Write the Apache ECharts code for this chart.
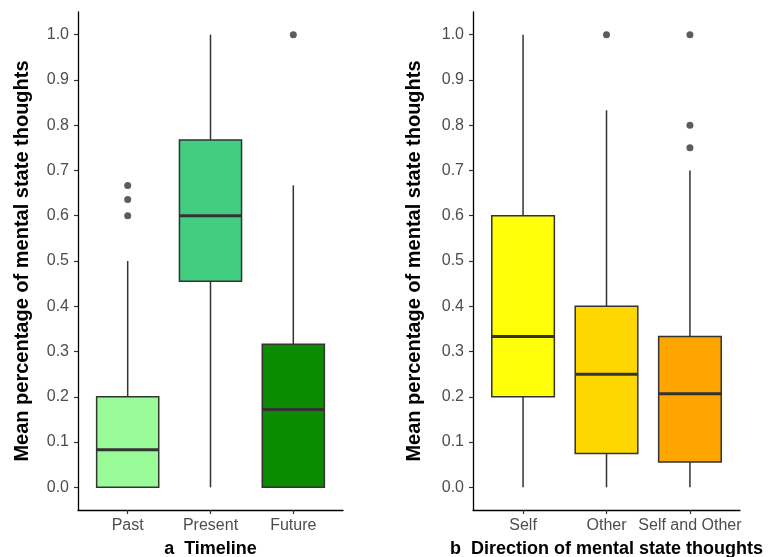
<!DOCTYPE html>
<html>
<head>
<meta charset="utf-8">
<script src="https://cdn.jsdelivr.net/npm/echarts@6/dist/echarts.min.js"></script>
<style>html,body{margin:0;padding:0;background:#fff}#c{width:784px;height:557px}</style>
</head>
<body>
<div id="c"></div>
<script>
// ---- data ----
var timelineCats = ['Past', 'Present', 'Future'];
// [min, q1, median, q3, max]
var timelineStats = [
  [0.0, 0.0, 0.083, 0.2, 0.5],
  [0.0, 0.455, 0.6, 0.767, 1.0],
  [0.0, 0.0, 0.172, 0.316, 0.667]
];
var timelineOutliers = [[0.6, 0.636, 0.667], [], [1.0]];

var directionCats = ['Self', 'Other', 'Self and Other'];
var directionStats = [
  [0.0, 0.2, 0.333, 0.6, 1.0],
  [0.0, 0.075, 0.25, 0.4, 0.833],
  [0.0, 0.056, 0.207, 0.333, 0.7]
];
var directionOutliers = [[], [1.0], [0.75, 0.8, 1.0]];

var yTicks = [0.0, 0.1, 0.2, 0.3, 0.4, 0.5, 0.6, 0.7, 0.8, 0.9, 1.0];
var yTitle = 'Mean percentage of mental state thoughts';
var xTitleA = 'a  Timeline';
var xTitleB = 'b  Direction of mental state thoughts';

// ---- styles ----
var timelineColors = ['#98FB98', '#43CD80', '#0B8B00'];
var directionColors = ['#FFFF0A', '#FFD700', '#FFA500'];
var FONT = '"Liberation Sans", Arial, Helvetica, sans-serif';
var INK = '#333333';

function boxData(stats) {
  return stats.map(function (s, i) { return [i + 1].concat(s); });
}
function outlierData(outs) {
  var r = [];
  outs.forEach(function (arr, i) { arr.forEach(function (v) { r.push([i + 1, v]); }); });
  return r;
}
function makeRender(colors) {
  return function (params, api) {
    var x = api.value(0);
    var pMin = api.coord([x, api.value(1)]);
    var pQ1 = api.coord([x, api.value(2)]);
    var pMed = api.coord([x, api.value(3)]);
    var pQ3 = api.coord([x, api.value(4)]);
    var pMax = api.coord([x, api.value(5)]);
    var hw = api.size([0.75, 0])[0] / 2;
    var cx = pMed[0];
    var lineStyle = { stroke: INK, lineWidth: 1.5 };
    return {
      type: 'group',
      children: [
        { type: 'line', shape: { x1: cx, y1: pQ3[1], x2: cx, y2: pMax[1] }, style: lineStyle },
        { type: 'line', shape: { x1: cx, y1: pMin[1], x2: cx, y2: pQ1[1] }, style: lineStyle },
        { type: 'rect', shape: { x: cx - hw, y: pQ3[1], width: 2 * hw, height: pQ1[1] - pQ3[1] },
          style: { fill: colors[params.dataIndex], stroke: INK, lineWidth: 1.5 } },
        { type: 'line', shape: { x1: cx - hw, y1: pMed[1], x2: cx + hw, y2: pMed[1] },
          style: { stroke: INK, lineWidth: 3 } }
      ]
    };
  };
}

function xAxisCfg(idx, cats, title) {
  return {
    type: 'value', gridIndex: idx, min: 0.4, max: 3.6,
    name: title, nameLocation: 'middle', nameGap: 30,
    nameTextStyle: { fontFamily: FONT, fontSize: 18, fontWeight: 'bold', color: '#000' },
    axisLine: { show: true, onZero: false, lineStyle: { color: '#000', width: 1.3 } },
    axisTick: { show: true, length: 4, lineStyle: { color: INK, width: 1.2 }, customValues: [1, 2, 3] },
    axisLabel: { show: true, margin: 8, fontFamily: FONT, fontSize: 16, color: '#4d4d4d',
      customValues: [1, 2, 3],
      formatter: function (v) { return cats[Math.round(v) - 1] || ''; } },
    splitLine: { show: false }
  };
}
function yAxisCfg(idx, gap) {
  return {
    type: 'value', gridIndex: idx, min: -0.05, max: 1.05,
    name: yTitle, nameLocation: 'middle', nameGap: gap,
    nameTextStyle: { fontFamily: FONT, fontSize: 20, fontWeight: 'bold', color: '#000' },
    axisLine: { show: true, onZero: false, lineStyle: { color: '#000', width: 1.3 } },
    axisTick: { show: true, length: 4, lineStyle: { color: INK, width: 1.2 }, customValues: yTicks },
    axisLabel: { show: true, margin: 9, fontFamily: FONT, fontSize: 16, color: '#4d4d4d',
      customValues: yTicks,
      formatter: function (v) { return v.toFixed(1); } },
    splitLine: { show: false }
  };
}

var chart = echarts.init(document.getElementById('c'), null, { renderer: 'canvas' });
chart.setOption({
  backgroundColor: '#fff',
  animation: false,
  grid: [
    { left: 78, width: 265, top: 12, bottom: 47, containLabel: false, outerBoundsMode: 'none' },
    { left: 473, width: 267, top: 12, bottom: 47, containLabel: false, outerBoundsMode: 'none' }
  ],
  xAxis: [xAxisCfg(0, timelineCats, xTitleA), xAxisCfg(1, directionCats, xTitleB)],
  yAxis: [yAxisCfg(0, 46), yAxisCfg(1, 49)],
  series: [
    { type: 'custom', xAxisIndex: 0, yAxisIndex: 0, data: boxData(timelineStats),
      encode: { x: 0, y: [1, 2, 3, 4, 5] }, renderItem: makeRender(timelineColors) },
    { type: 'scatter', xAxisIndex: 0, yAxisIndex: 0, data: outlierData(timelineOutliers),
      symbolSize: 7, itemStyle: { color: INK } },
    { type: 'custom', xAxisIndex: 1, yAxisIndex: 1, data: boxData(directionStats),
      encode: { x: 0, y: [1, 2, 3, 4, 5] }, renderItem: makeRender(directionColors) },
    { type: 'scatter', xAxisIndex: 1, yAxisIndex: 1, data: outlierData(directionOutliers),
      symbolSize: 7, itemStyle: { color: INK } }
  ]
});
</script>
</body>
</html>
